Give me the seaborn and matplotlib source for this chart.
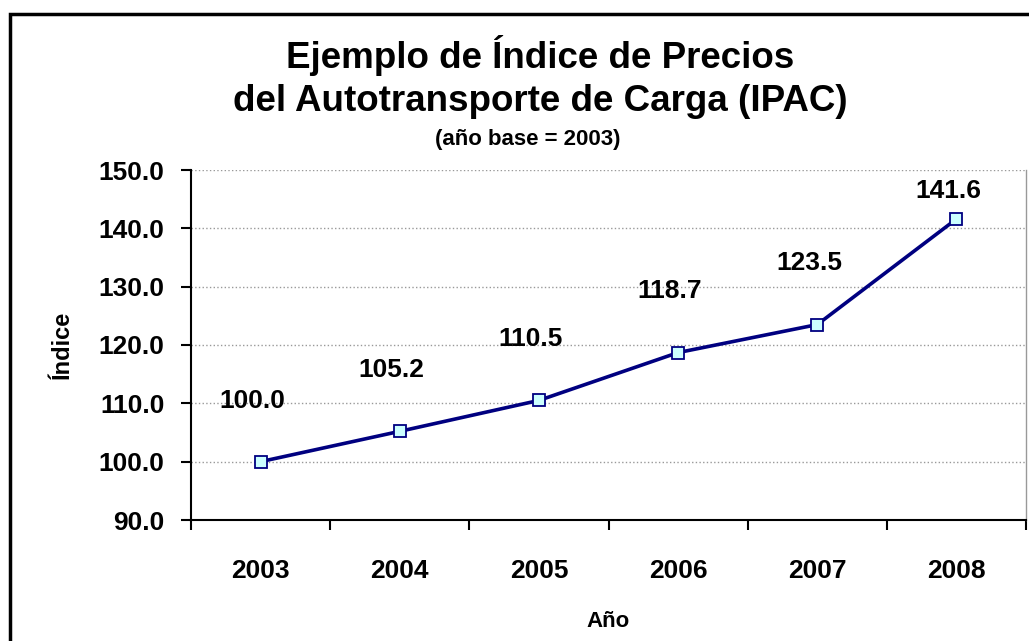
import matplotlib
matplotlib.use("Agg")
import matplotlib.pyplot as plt
import matplotlib.patches as patches
from matplotlib.ticker import FixedLocator
import seaborn as sns
import pandas as pd

# datos
years = ["2003", "2004", "2005", "2006", "2007", "2008"]
ipac = [100.0, 105.2, 110.5, 118.7, 123.5, 141.6]

df = pd.DataFrame({"pos": range(len(years)), "year": years, "ipac": ipac})

sns.set_theme(style="white")
plt.rcParams["font.family"] = ["Liberation Sans", "DejaVu Sans"]
plt.rcParams["text.color"] = "black"
plt.rcParams["axes.labelcolor"] = "black"
plt.rcParams["xtick.color"] = "black"
plt.rcParams["ytick.color"] = "black"

fig = plt.figure(figsize=(10.29, 6.41), dpi=100)
ax = fig.add_axes([191 / 1029, 1 - 520 / 641, (1026 - 191) / 1029, (520 - 170) / 641])

sns.lineplot(data=df, x="pos", y="ipac", ax=ax, color="#000080", linewidth=2.6,
             marker="s", markersize=8.5, markerfacecolor="#CCFFFF",
             markeredgecolor="#000080", markeredgewidth=1.3)

ax.set_xlim(-0.5, len(years) - 0.5)
ax.set_ylim(90, 150)
ax.set_yticks(range(90, 151, 10))
ax.set_yticklabels([f"{v:.1f}" for v in range(90, 151, 10)], fontsize=19, fontweight="bold")
ax.set_xticks(df["pos"])
ax.set_xticklabels(years, fontsize=19, fontweight="bold")
ax.xaxis.set_minor_locator(FixedLocator([i + 0.5 for i in range(-1, len(years))]))
ax.tick_params(axis="x", which="major", length=0, pad=28)
ax.tick_params(axis="x", which="minor", length=7, width=1.5, color="black", direction="out", bottom=True)
ax.tick_params(axis="y", length=7, width=1.5, color="black", direction="out", left=True, pad=12)

ax.grid(axis="y", color="#999999", linestyle=":", linewidth=1)
ax.set_axisbelow(True)
ax.spines["top"].set_visible(False)
ax.spines["right"].set_color("#999999")
ax.spines["right"].set_linewidth(1)
for s in ["left", "bottom"]:
    ax.spines[s].set_color("black")
    ax.spines[s].set_linewidth(1.5)

ax.set_xlabel("Año", fontsize=16, fontweight="bold", labelpad=20)
ax.set_ylabel("Índice", fontsize=17, fontweight="bold", labelpad=18)

# etiquetas de datos
for i, v in enumerate(ipac):
    dy = 44 if v < 140 else 20
    ax.annotate(f"{v:.1f}", (i, v), xytext=(-6, dy), textcoords="offset points",
                ha="center", va="center", fontsize=19, fontweight="bold")

fig.text(0.525, 0.914, "Ejemplo de Índice de Precios", ha="center", va="center",
         fontsize=26.5, fontweight="bold")
fig.text(0.525, 0.842, "del Autotransporte de Carga (IPAC)", ha="center", va="center",
         fontsize=26.5, fontweight="bold")
fig.text(0.513, 0.782, "(año base = 2003)", ha="center", va="center",
         fontsize=16, fontweight="bold")

# marco exterior
fig.patches.append(patches.Rectangle((10 / 1029, -0.1), 1.2, 1.1 - 14 / 641,
                                     transform=fig.transFigure, fill=False,
                                     edgecolor="black", linewidth=2.5))

fig.savefig("out.png", dpi=100)
